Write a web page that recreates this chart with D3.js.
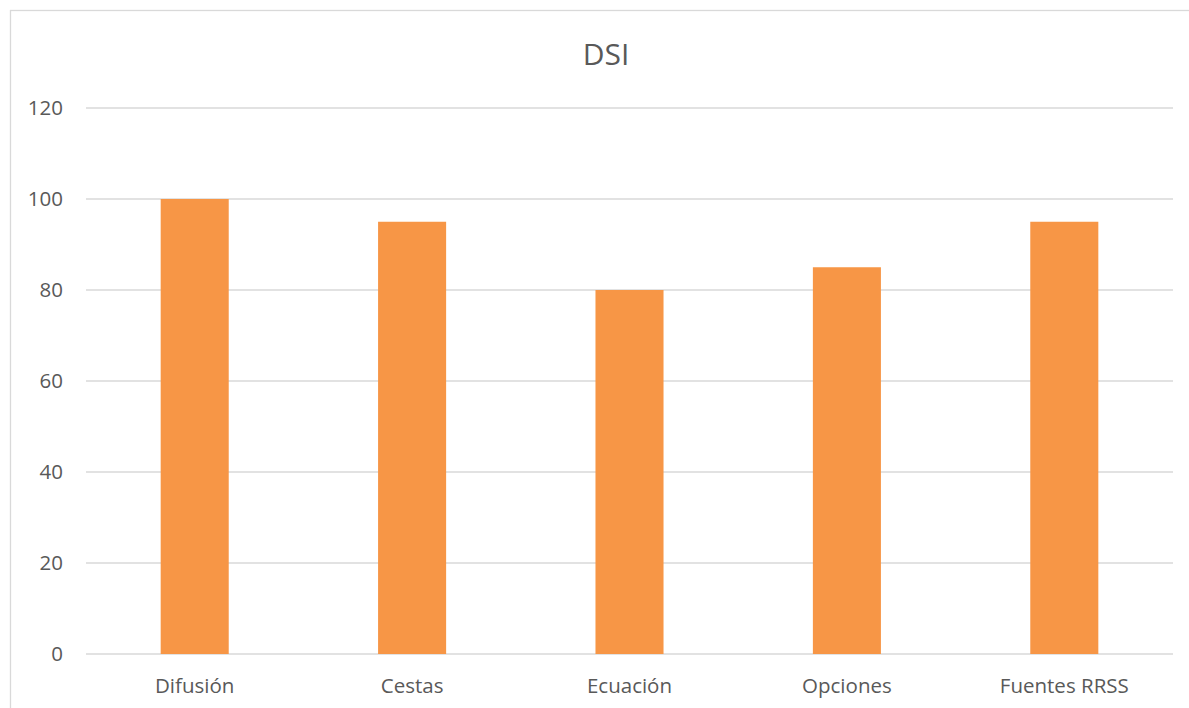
<!DOCTYPE html>
<html>
<head>
	<meta charset="UTF-8">
	<title>DSI</title>
	<script src="https://d3js.org/d3.v7.min.js"></script>
	<style>
		body { margin: 0; background: #fff; }
		text { font-family: "Open Sans", "Noto Sans", sans-serif; fill: #595959; }
		.grid line { stroke: #d9d9d9; stroke-width: 1.3px; }
		.bar { fill: #f79646; }
	</style>
</head>
<body>
	<script>
		// values
		var categories = ["Difusión", "Cestas", "Ecuación", "Opciones", "Fuentes RRSS"];
		var values = [100, 95, 80, 85, 95];
		var yTicks = [0, 20, 40, 60, 80, 100, 120];

		var width = 1189, height = 708;
		var plot = {left: 86, right: 1173, top: 108, bottom: 654};

		var svg = d3.select("body").append("svg")
			.attr("width", width)
			.attr("height", height);

		// chart frame (cut off on the right and bottom like the original)
		svg.append("rect")
			.attr("x", 10.5).attr("y", 10.5)
			.attr("width", 1300).attr("height", 800)
			.attr("fill", "none")
			.attr("stroke", "#d9d9d9")
			.attr("stroke-width", 1.3);

		var x = d3.scaleBand()
			.domain(categories)
			.range([plot.left, plot.right])
			.paddingInner(0.687)
			.paddingOuter(0.3435);

		var y = d3.scaleLinear()
			.domain([0, 120])
			.range([plot.bottom, plot.top]);

		// gridlines
		svg.append("g").attr("class", "grid")
			.selectAll("line")
			.data(yTicks)
			.enter().append("line")
			.attr("x1", plot.left)
			.attr("x2", plot.right)
			.attr("y1", function(d) { return y(d); })
			.attr("y2", function(d) { return y(d); });

		// y tick labels
		svg.append("g")
			.selectAll("text")
			.data(yTicks)
			.enter().append("text")
			.attr("x", 63)
			.attr("y", function(d) { return y(d); })
			.attr("dy", "0.36em")
			.attr("text-anchor", "end")
			.style("font-size", "20.5px")
			.text(function(d) { return d; });

		// bars
		svg.append("g")
			.selectAll("rect")
			.data(values)
			.enter().append("rect")
			.attr("class", "bar")
			.attr("x", function(d, i) { return x(categories[i]); })
			.attr("width", x.bandwidth())
			.attr("y", function(d) { return y(d); })
			.attr("height", function(d) { return y(0) - y(d); });

		// category labels
		svg.append("g")
			.selectAll("text")
			.data(categories)
			.enter().append("text")
			.attr("x", function(d) { return x(d) + x.bandwidth() / 2; })
			.attr("y", 693)
			.attr("text-anchor", "middle")
			.style("font-size", "20.5px")
			.text(function(d) { return d; });

		// title
		svg.append("text")
			.attr("x", 606)
			.attr("y", 65)
			.attr("text-anchor", "middle")
			.style("font-size", "30px")
			.text("DSI");
	</script>
</body>
</html>
